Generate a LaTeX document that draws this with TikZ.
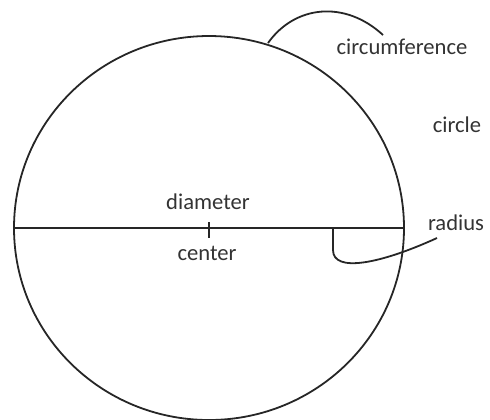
\documentclass[tikz,border=0pt]{standalone}
\usepackage{fontspec}
\setmainfont{Carlito}
\usetikzlibrary{shapes.geometric}
\begin{document}
\begin{tikzpicture}[
    x=0.5pt, y=-0.5pt,
    every node/.style={font=\fontsize{11.3}{13}\selectfont, text=black!80},
    lbl/.style={inner sep=1pt},
    ln/.style={line width=0.9pt, black!85}
]
\useasboundingbox (0,0) rectangle (490,419);
\node[ellipse, draw, ln, minimum width=195pt, minimum height=192pt, inner sep=0pt] (circ) at (209,228) {};
\coordinate (ctr) at (circ.center);
\node[lbl] (diam)  at (208,202) {diameter};
\node[lbl] (cent)  at (207,253) {center};
\node[lbl] (circu) at (402,47)  {circumference};
\node[lbl] (cname) at (457,125) {circle};
\node[lbl] (rad)   at (456,223) {radius};
\coordinate (cstart) at (268,43);
\coordinate (cend)   at (383,35);
\coordinate (rstart) at (333,228);
\coordinate (rend)   at (437,238);
\draw[ln] (circ.west) -- (circ.east);
\draw[ln] ([yshift=3pt]ctr) -- ([yshift=-5pt]ctr);
\draw[ln] (cstart) .. controls (295,5) and (345,0) .. (cend);
\draw[ln] (rstart) -- (333,250) .. controls (333,273) and (380,264) .. (rend);
\end{tikzpicture}
\end{document}
